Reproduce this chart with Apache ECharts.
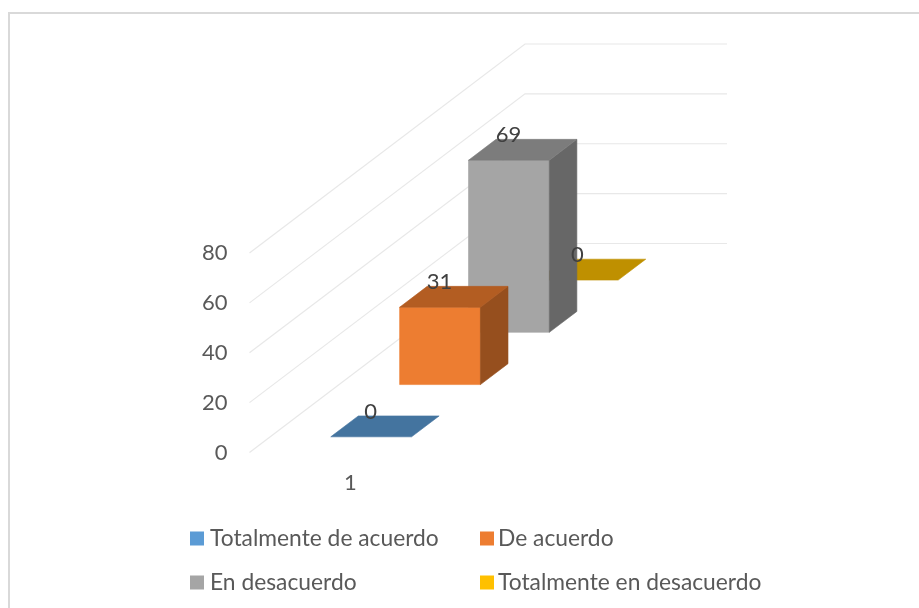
<!DOCTYPE html>
<html>
<head>
<meta charset="utf-8">
<style>html,body{margin:0;padding:0;background:#fff}#c{width:919px;height:608px}</style>
<script src="https://cdn.jsdelivr.net/npm/echarts@6/dist/echarts.min.js"></script>
</head>
<body>
<div id="c"></div>
<script>
const categories = ['1'];
const seriesNames = ['Totalmente de acuerdo', 'De acuerdo', 'En desacuerdo', 'Totalmente en desacuerdo'];
const seriesValues = [0, 31, 69, 0];
const yTicks = [0, 20, 40, 60, 80];

const legendColors = ['#5B9BD5', '#ED7D31', '#A5A5A5', '#FFC000'];
const frontColors = ['#5B9BD5', '#ED7D31', '#A5A5A5', '#FFC000'];
const topColors = ['#44749F', '#B35D22', '#7C7C7C', '#BF9000'];
const sideColors = ['#37608A', '#964F1E', '#676767', '#9A7500'];

// oblique projection of the depth axis, in pixels
const DEPTH_X = 275.5, DEPTH_Y = -209;
const SLOTS = 4, GAP = 0.3, BAR_DEPTH = 0.4, GAP_WIDTH = 2.5;
const FONT = 'Lato, "Open Sans", sans-serif';

function geometry(api, i, v) {
  const band = api.size([1, 0])[0];
  const w = band / GAP_WIDTH;
  const base = api.coord([0, 0]);
  const topP = api.coord([0, v]);
  const d0 = (i + GAP) / SLOTS, dd = BAR_DEPTH / SLOTS;
  const x0 = base[0] - w / 2 + d0 * DEPTH_X;
  const yb = base[1] + d0 * DEPTH_Y;
  const yt = topP[1] + d0 * DEPTH_Y;
  return { w, x0, yb, yt, dx: dd * DEPTH_X, dy: dd * DEPTH_Y };
}

function face(points, color) {
  return { type: 'polygon', shape: { points }, style: { fill: color, stroke: color, lineWidth: 0.6 } };
}

function barItem(i) {
  return function (params, api) {
    const { w, x0, yb, yt, dx, dy } = geometry(api, i, api.value(1));
    const children = [];
    if (yb - yt > 0.5) {
      children.push(face([[x0, yt], [x0 + w, yt], [x0 + w, yb], [x0, yb]], frontColors[i]));
      children.push(face([[x0 + w, yt], [x0 + w + dx, yt + dy], [x0 + w + dx, yb + dy], [x0 + w, yb]], sideColors[i]));
    }
    children.push(face([[x0, yt], [x0 + w, yt], [x0 + w + dx, yt + dy], [x0 + dx, yt + dy]], topColors[i]));
    return { type: 'group', children };
  };
}

const barSeries = seriesNames.map((name, i) => ({
  type: 'custom',
  name,
  coordinateSystem: 'cartesian2d',
  data: [[0, seriesValues[i]]],
  itemStyle: { color: legendColors[i] },
  renderItem: barItem(i),
  z: 10 + (SLOTS - i),
  silent: true
}));

const wallSeries = {
  type: 'custom',
  coordinateSystem: 'cartesian2d',
  data: yTicks.map(t => [0, t]),
  z: 1,
  silent: true,
  renderItem(params, api) {
    const band = api.size([1, 0])[0];
    const p = api.coord([0, api.value(1)]);
    const x = p[0] - band / 2, y = p[1];
    return {
      type: 'polyline',
      shape: { points: [[x, y], [x + DEPTH_X, y + DEPTH_Y], [x + DEPTH_X + band, y + DEPTH_Y]] },
      style: { stroke: '#E8E8E8', lineWidth: 1.2, fill: null }
    };
  }
};

const labelSeries = {
  type: 'custom',
  coordinateSystem: 'cartesian2d',
  data: seriesValues.map((v, i) => [0, v, i]),
  z: 30,
  silent: true,
  renderItem(params, api) {
    const i = api.value(2), v = api.value(1);
    const g = geometry(api, i, v);
    return {
      type: 'text',
      style: {
        text: String(v),
        x: g.x0 + g.w / 2 - 0.5,
        y: g.yt + g.dy - 4.5,
        align: 'center',
        verticalAlign: 'middle',
        fill: '#404040',
        font: '22px ' + FONT
      }
    };
  }
};

const legendBase = {
  orient: 'vertical',
  icon: 'rect',
  itemWidth: 14,
  itemHeight: 14,
  selectedMode: false,
  padding: 0
};
const legendText = { color: '#595959', fontSize: 22.8, fontFamily: FONT, height: 20, lineHeight: 20 };

const chart = echarts.init(document.getElementById('c'), null, { renderer: 'canvas' });
chart.setOption({
  animation: false,
  backgroundColor: '#fff',
  grid: { left: 249.5, top: 253, width: 202, height: 199.5 },
  xAxis: {
    type: 'category',
    data: categories,
    axisLine: { show: false },
    axisTick: { show: false },
    splitLine: { show: false },
    axisLabel: { color: '#595959', fontSize: 22, fontFamily: FONT, margin: 19 }
  },
  yAxis: {
    type: 'value',
    min: 0,
    max: 80,
    interval: 20,
    axisLine: { show: false },
    axisTick: { show: false },
    splitLine: { show: false },
    axisLabel: { color: '#595959', fontSize: 22, fontFamily: FONT, margin: 22 }
  },
  legend: [
    Object.assign({}, legendBase, { left: 190, top: 527, itemGap: 21, textStyle: Object.assign({}, legendText, { padding: [0, 0, 0, 1] }), data: [seriesNames[0], seriesNames[2]] }),
    Object.assign({}, legendBase, { left: 480, top: 527, itemGap: 21, textStyle: Object.assign({}, legendText, { padding: [0, 0, 0, -1] }), data: [seriesNames[1], seriesNames[3]] })
  ],
  graphic: [{
    type: 'polyline',
    silent: true,
    shape: { points: [[9, 608], [9, 13], [919, 13]] },
    style: { stroke: '#D9D9D9', lineWidth: 2, fill: null }
  }],
  series: [wallSeries].concat(barSeries, [labelSeries])
});
</script>
</body>
</html>
